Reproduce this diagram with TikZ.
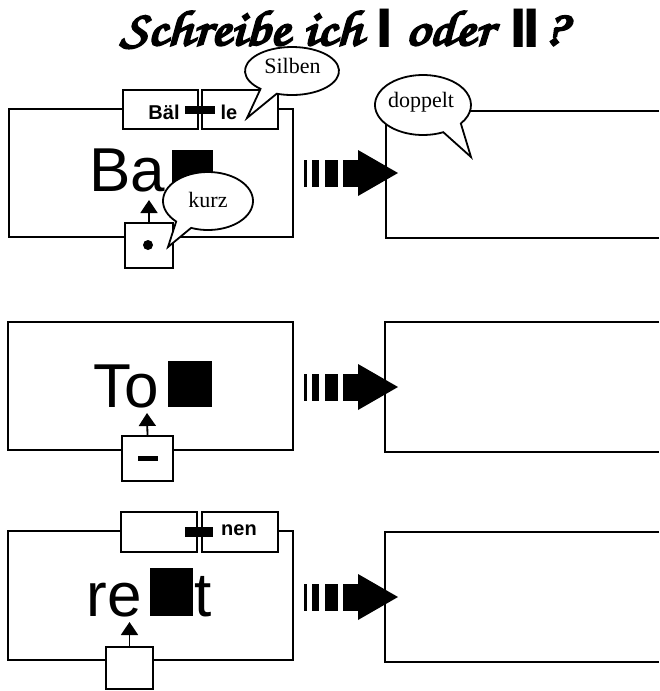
\documentclass[tikz,border=0pt]{standalone}
\usepackage{fontspec}
\setmainfont{Liberation Serif}
\newfontfamily\sansf{Liberation Sans}
\newfontfamily\scriptf[FakeBold=4]{TeX Gyre Chorus}
\usetikzlibrary{arrows.meta}
\newcommand\fatarrow[1]{%
  \begin{scope}[shift={(0,#1)}]
    \fill (304,-13.5) rectangle (307,13.5);
    \fill (312,-13.5) rectangle (318.5,13.5);
    \fill (324.5,-13.5) rectangle (338,13.5);
    \fill (342.5,-13.5) rectangle (359,13.5);
    \fill (358,-23) -- (398,0) -- (358,23) -- cycle;
  \end{scope}}
\newcommand\bubble[8]{%
  \draw[bub] (#1,#2) ++(#5:#3 and #4) arc[start angle=#5, end angle=#6+360, x radius=#3, y radius=#4] -- (#7,#8) -- cycle;}
\begin{document}
\begin{tikzpicture}[x=1pt,y=-1pt,
  box/.style={draw, line width=1.8pt, fill=white, inner sep=0pt, outer sep=0pt, anchor=north west},
  open/.style={line width=1.8pt},
  bigtxt/.style={font=\sansf\fontsize{62}{62}\selectfont, inner sep=0pt, anchor=base},
  syl/.style={font=\sansf\bfseries\fontsize{20}{20}\selectfont, inner sep=0pt, anchor=base},
  bub/.style={draw, line width=1.8pt, fill=white, line join=miter},
  bubtxt/.style={font=\fontsize{22}{22}\selectfont, inner sep=0pt, anchor=base},
  pointer/.style={-{Triangle[width=17pt,length=13pt]}, line width=1.8pt},
  ttl/.style={font=\scriptf\fontsize{50}{50}\selectfont, inner sep=0pt, anchor=base west},
  bar/.style={font=\sansf\bfseries\fontsize{53}{53}\selectfont, inner sep=0pt, anchor=base}]
\useasboundingbox (0,0) rectangle (659,691);

% title
\node[ttl] (t1) at (120,45) {\scalebox{1.18}[1]{Schreibe ich}};
\node[bar] (t2) at (384.5,47) {\scalebox{1.25}[1]{l}};
\node[ttl] (t3) at (405,45) {\scalebox{1.18}[1]{oder}};
\node[bar] (t4) at (525,47) {\scalebox{1.25}[1]{l\kern-4pt l}};
\node[ttl] (t5) at (543,45) {\scalebox{1.18}[1]{?}};

% ---------- row 1 ----------
\node[box, minimum width=284pt, minimum height=128pt] (L1) at (9,109) {};
\node[box, minimum width=75pt, minimum height=39pt] (S1a) at (123,90) {};
\node[box, minimum width=76pt, minimum height=39pt] (S1b) at (202,90) {};
\fill (185,106) rectangle (215,114);
\node[syl] (bael) at (164,119) {Bäl};
\node[syl] (le) at (229,119) {le};
\node[bigtxt] (ba) at (127.5,191) {Ba};
\fill (172,150) rectangle (213,191);
\node[box, minimum width=48pt, minimum height=45pt] (D1) at (125,223) {};
\fill (148,245) circle (5);
\coordinate (a1) at (149,200);
\draw[pointer] (D1.north) -- (a1);
\bubble{208}{201}{45}{29}{135}{112}{168}{247}
\node[bubtxt] (kurz) at (208,207) {kurz};
\bubble{292}{71}{47}{24}{132}{109}{247}{118}
\node[bubtxt] (silben) at (292.5,73) {Silben};
\coordinate (R1a) at (659,111);
\coordinate (R1b) at (386,111);
\coordinate (R1c) at (386,238);
\coordinate (R1d) at (659,238);
\draw[open] (R1a) -- (R1b) -- (R1c) -- (R1d);
\bubble{423}{105}{48}{30}{65}{38}{471}{157}
\node[bubtxt] (doppelt) at (421,107) {doppelt};
\fatarrow{173}

% ---------- row 2 ----------
\node[box, minimum width=285pt, minimum height=128pt] (L2) at (8,322) {};
\node[bigtxt] (to) at (126.5,407) {To};
\fill (168,361) rectangle (212,407);
\node[box, minimum width=51pt, minimum height=45pt] (D2) at (122,436) {};
\fill (138,455.5) rectangle (158,460.5);
\coordinate (a2) at (147,413);
\draw[pointer] (D2.north) -- (a2);
\coordinate (R2a) at (659,322);
\coordinate (R2b) at (385,322);
\coordinate (R2c) at (385,452);
\coordinate (R2d) at (659,452);
\draw[open] (R2a) -- (R2b) -- (R2c) -- (R2d);
\fatarrow{387}

% ---------- row 3 ----------
\node[box, minimum width=285pt, minimum height=129pt] (L3) at (8,531) {};
\node[box, minimum width=76pt, minimum height=40pt] (S3a) at (121,512) {};
\node[box, minimum width=76pt, minimum height=40pt] (S3b) at (202,512) {};
\fill (185,527) rectangle (213,537);
\node[syl] (nen) at (239,535) {nen};
\node[bigtxt] (re) at (114,616) {re};
\fill (150,568) rectangle (193,616);
\node[bigtxt] (t) at (203,616) {t};
\node[box, minimum width=47pt, minimum height=42pt] (D3) at (106,647) {};
\coordinate (a3) at (129.5,622);
\draw[pointer] (D3.north) -- (a3);
\coordinate (R3a) at (659,532);
\coordinate (R3b) at (385,532);
\coordinate (R3c) at (385,662);
\coordinate (R3d) at (659,662);
\draw[open] (R3a) -- (R3b) -- (R3c) -- (R3d);
\fatarrow{597}
\end{tikzpicture}
\end{document}
